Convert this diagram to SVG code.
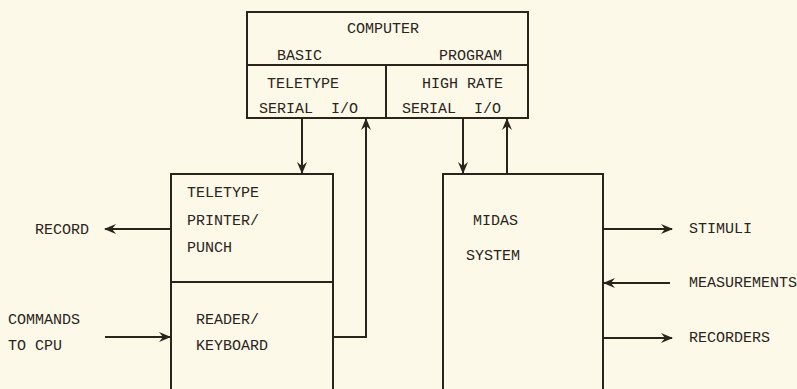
<svg xmlns="http://www.w3.org/2000/svg" width="797" height="389" viewBox="0 0 797 389">
<style>
text{font-family:"Liberation Mono","DejaVu Sans Mono",monospace;font-size:15px;fill:#2b241c}
.b{fill:none;stroke:#2b241c;stroke-width:2}
.c{fill:none;stroke:#2b241c;stroke-width:2}
</style>
<defs>
<marker id="a" viewBox="0 0 12 10" refX="11" refY="5" markerWidth="12" markerHeight="10" markerUnits="userSpaceOnUse" orient="auto">
<path d="M0,0 L12,5 L0,10 L4,5 Z" fill="#2b241c"/>
</marker>
</defs>
<rect width="797" height="389" fill="#fcf9e8"/>
<g id="computer">
<rect class="b" x="247" y="12" width="281" height="106"/>
<line class="b" x1="247" y1="65" x2="528" y2="65"/>
<line class="b" x1="386" y1="65" x2="386" y2="118"/>
<text x="383" y="33" text-anchor="middle">COMPUTER</text>
<text x="277" y="60">BASIC</text>
<text x="439" y="60">PROGRAM</text>
<text x="267" y="88">TELETYPE</text>
<text x="259" y="113" xml:space="preserve">SERIAL  I/O</text>
<text x="422" y="88">HIGH RATE</text>
<text x="402" y="113" xml:space="preserve">SERIAL  I/O</text>
</g>
<g id="teletype">
<path class="b" d="M171,389 V174 H333 V389"/>
<line class="b" x1="171" y1="282" x2="333" y2="282"/>
<text x="187" y="197">TELETYPE</text>
<text x="187" y="225">PRINTER/</text>
<text x="187" y="252">PUNCH</text>
<text x="196" y="324">READER/</text>
<text x="196" y="350">KEYBOARD</text>
</g>
<g id="midas">
<path class="b" d="M443,389 V174 H603 V389"/>
<text x="473" y="225">MIDAS</text>
<text x="466" y="260">SYSTEM</text>
</g>
<g id="labels">
<text x="35" y="234">RECORD</text>
<text x="8" y="324">COMMANDS</text>
<text x="8" y="350">TO CPU</text>
<text x="689" y="233">STIMULI</text>
<text x="689" y="287">MEASUREMENTS</text>
<text x="689" y="342">RECORDERS</text>
</g>
<g id="connectors">
<line class="c" x1="302" y1="118" x2="302" y2="173" marker-end="url(#a)"/>
<path class="c" d="M333,337 H366 V119" marker-end="url(#a)"/>
<line class="c" x1="463" y1="118" x2="463" y2="173" marker-end="url(#a)"/>
<line class="c" x1="507" y1="174" x2="507" y2="119" marker-end="url(#a)"/>
<line class="c" x1="171" y1="229" x2="105" y2="229" marker-end="url(#a)"/>
<line class="c" x1="105" y1="337" x2="170" y2="337" marker-end="url(#a)"/>
<line class="c" x1="603" y1="229" x2="672" y2="229" marker-end="url(#a)"/>
<line class="c" x1="670" y1="283" x2="604" y2="283" marker-end="url(#a)"/>
<line class="c" x1="603" y1="338" x2="672" y2="338" marker-end="url(#a)"/>
</g>
</svg>
